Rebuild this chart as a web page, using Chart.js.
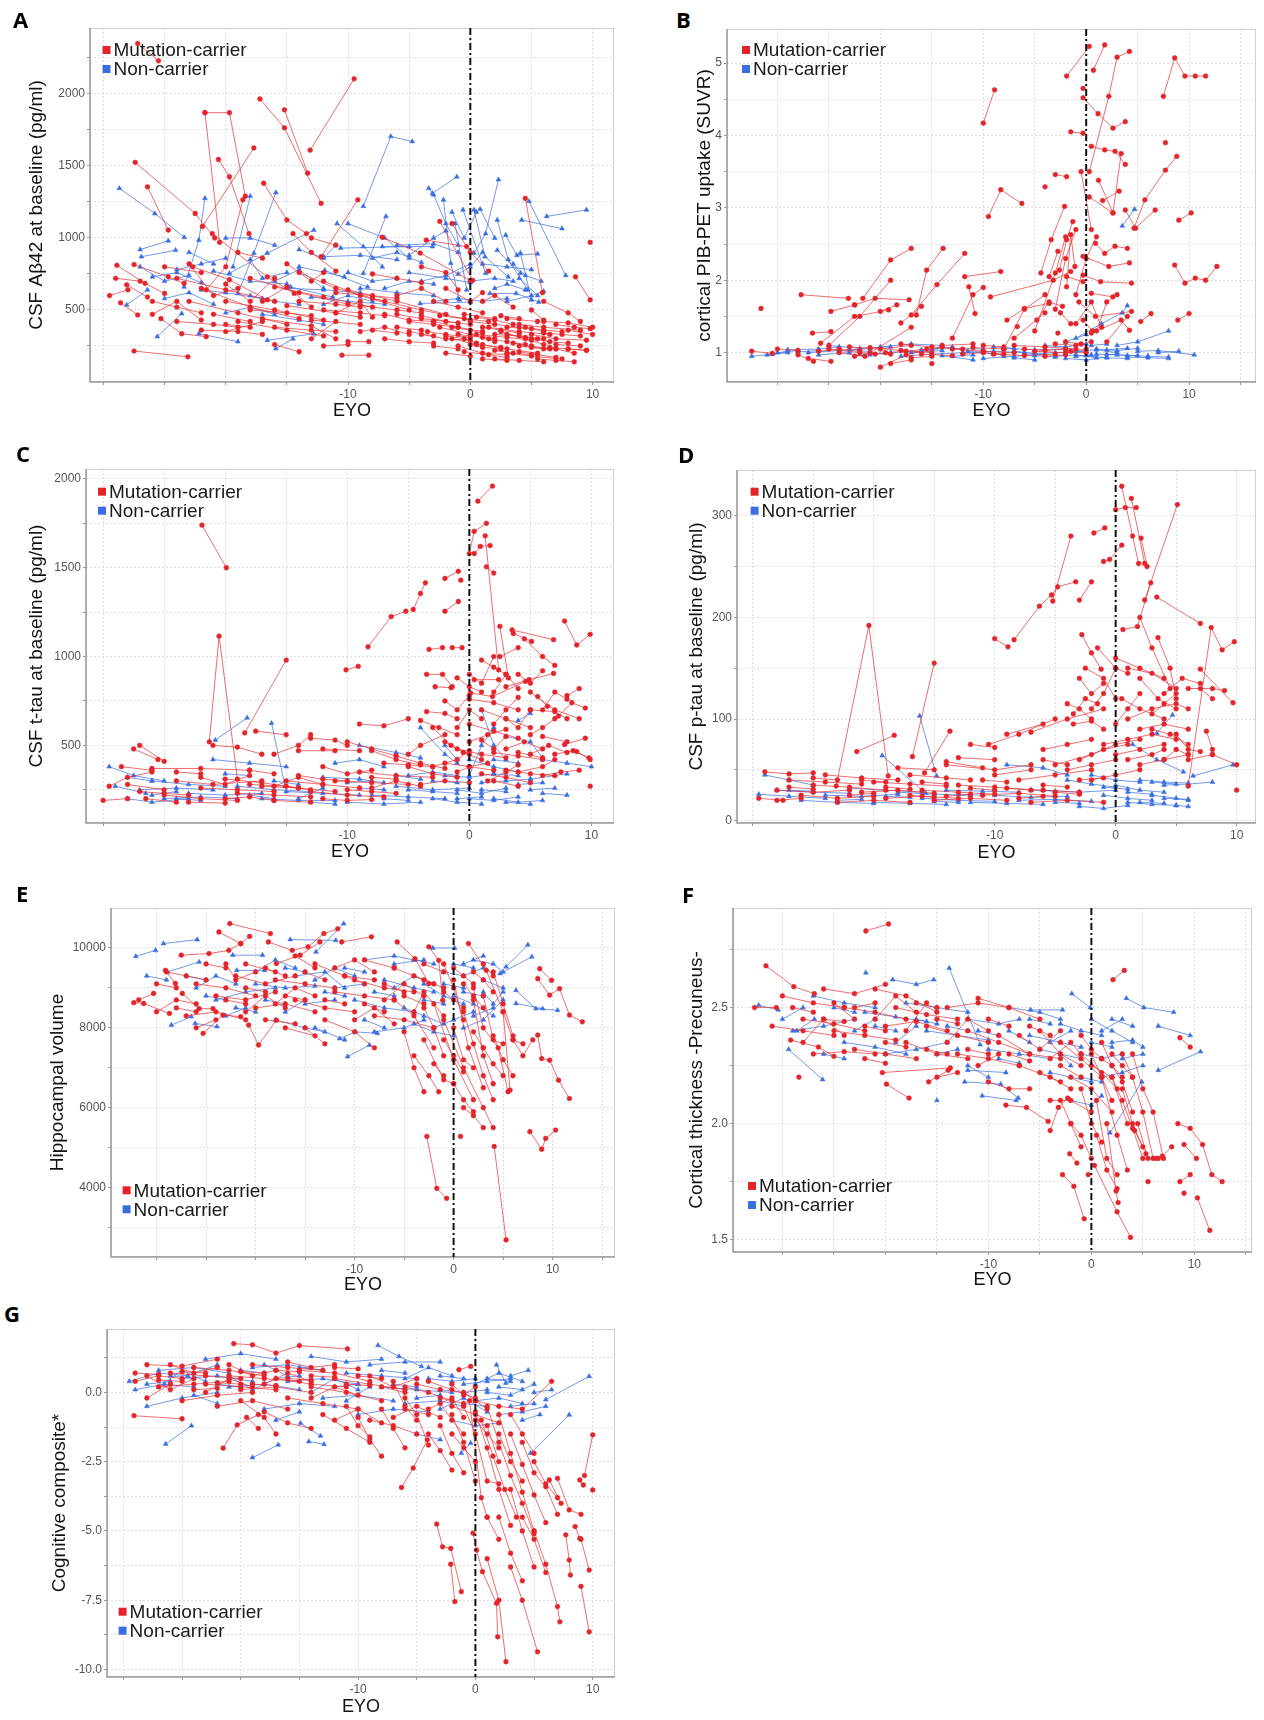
<!DOCTYPE html>
<html>
<head>
<meta charset="utf-8">
<title>Longitudinal biomarkers by EYO</title>
<script src="https://cdn.jsdelivr.net/npm/chart.js@4.4.1/dist/chart.umd.min.js"></script>
<style>
  body { margin: 0; background: #fff; }
  #page { position: relative; width: 1264px; height: 1720px; overflow: hidden; background: #fff; }
  .panel { position: absolute; }
  .letter { position: absolute; font-family: "Open Sans", "DejaVu Sans", sans-serif; font-weight: 700; font-size: 22px; line-height: 22px; color: #000; }
</style>
</head>
<body>
<div id="page"></div>
<script>
// each trajectory is one participant: [eyo1, value1, eyo2, value2, ...]
const xGridTicks = [-30, -25, -20, -15, -10, -5, 0, 5, 10, 15];
const xLabelTicks = [-10, 0, 10];

// A: CSF Abeta42
const A_yGrid = [250, 500, 750, 1000, 1250, 1500, 1750, 2000, 2250];
const A_yLabels = [500, 1000, 1500, 2000];
const A_mc = [
  [-27.2,2350,-25.5,2230], [-13.1,1610,-9.5,2105], [-17.2,1965,-15.2,1765,-12.2,1240],
  [-15.2,1890,-13.3,1450], [-21.7,1870,-19.7,1870,-18.4,1290], [-21.7,1870,-20.5,970],
  [-27.4,1525,-22.5,1170,-20.9,1000], [-26.4,1355,-24.7,1055], [-20.6,1545,-19.7,1425,-18.1,1030],
  [-21.9,1080,-17.7,1625], [-16.9,1380,-15.0,1125,-13.4,1030], [-12.2,870,-9.2,1265],
  [-28.9,810,-26.6,685,-25.0,615], [-28.1,675,-26.4,590], [-28.6,550,-27.2,465],
  [-27.5,815,-24.7,730,-23.4,685], [-27.5,215,-23.1,175], [-25.3,440,-23.6,335,-21.6,315],
  [-22.7,800,-19.7,710,-16.6,570], [-21.6,640,-20.0,800,-18.6,1265], [-21.1,1030,-16.6,730,-14.4,615],
  [-7.2,1005,-4.1,895,0.0,705], [-3.6,985,-0.3,940], [-2.5,1115,0.2,705], [4.5,1275,5.9,620],
  [8.6,730,9.8,570], [9.8,970], [-10.5,186,-8.3,186], [-10.0,280,-8.3,280],
  [-24,720,-20,640,-16,560], [-22,650,-18,520,-14,440], [-20,560,-16,500,-12,430],
  [-23,560,-19,480,-15,400], [-18,720,-14,620,-10,540], [-16,660,-12,590,-8,520],
  [-14,760,-11,650,-7,560], [-12,700,-9,600,-5,500], [-10,640,-6,560,-2,470],
  [-8,580,-4,500,0,430], [-19,420,-15,360,-12,320], [-17,440,-13,390,-11,300],
  [-21,470,-18,420], [-15,530,-11,480,-9,450], [-13,430,-9,400], [-16,260,-14,210],
  [-25,800,-22,760], [-14.5,1030,-13,900,-11,770], [-6,470,-4,440,-1,410],
  [-4,460,-2,420,0,400], [-5,350,-3,320], [-3,420,-1,380,1,350], [-2.5,380,0,330,2,300],
  [-1.5,300,0.5,260,2.5,240], [-1,250,1,200,3,190], [0,420,2,400,4,380], [0.5,330,3,310,5,290],
  [1,260,3,230,5.5,200], [2,160,4,150,6,140], [3,200,5,180,7.5,160], [4,400,6,380,9,360],
  [5,330,7,300,9.5,290], [6,420,8,410,10,380], [-2,200,0,180], [3,440,5.5,420],
  [1.5,380,4,350,6.5,330], [7,260,9,250], [8,360,10,330], [-0.5,470,2,440],
  [2.5,350,4.5,300,6,260], [5,240,7,230,8.5,200], [-1.5,1100,0,900,1.5,770], [-3,560,-1,520,1,480],
  [-5,420,-3,400,-1,380], [-4,330,-2,300,0,290], [-3,250,-1,230], [-2.5,460,-0.5,440,1.5,420],
  [-1,330,1,310,2,280], [-0.5,210,1.5,190,3,170], [0.5,450,2,430,3.5,400], [1,380,2.5,360,4,340],
  [1.5,300,3,280,4.5,260], [2,220,3.5,200,5,190], [2.5,460,4,440], [3,330,4.5,310,6,300],
  [3.5,270,5,250,6.5,230], [4,210,5.5,190,7,170], [4.5,380,6,360,7.5,350], [5,300,6.5,280,8,270],
  [5.5,160,7,150,8.5,140], [6,340,7.5,330,9,320], [6.5,240,8,230,9.5,220], [7,400,8.5,380,9.8,370],
  [-6,380,-4,360], [-7,300,-5,280,-3,270], [-8,360,-6,340], [-1.5,380,0,360,1,340],
  [0,260,1,240,2.5,230], [-2,320,-0.5,300,0.5,270], [1,160,3,150], [3,380,5,370,6,350],
  [-3.5,350,-2,330,0,310], [8,230,9.5,220], [4,250,6,230,7,230], [2,330,4,320,5.5,300],
  [-29,720,-27,700], [-26,560,-24,520,-22,480], [-24,420,-21,400,-19,380], [-22,360,-19,350,-17,330],
  [-20,400,-18,380], [-18,500,-15,480,-13,460], [-16,380,-13,360,-11,350], [-14,560,-11,540,-9,520],
  [-12,500,-9,480,-7,460], [-11,620,-8,600,-6,580], [-9,530,-6,500,-4,480], [-7,470,-5,430,-3,420],
  [-12,250,-10,260], [-19,900,-17,860], [-13,1000,-11,950], [-8,750,-6,720,-4,690],
  [-26,470,-24,560,-22,430], [-23,820,-21,600,-19,650], [-20,680,-18,560,-16,720], [-17,560,-15,660,-13,520],
  [-15,820,-13,700,-12,760], [-11,480,-9,560,-8,450], [-29.5,600,-28,640], [-20,350,-17,420],
  [-13,300,-11,420], [-9,350,-7,380,-5,330], [-6,600,-4,650,-2,560], [-4,800,-2,760,-1,640],
  [-2,650,0,560,1,620], [1,560,2,600,3.5,520], [5,500,6,430], [6,560,8,480,9,420]
];
const A_nc = [
  [-28.7,1345,-25.8,1170,-23.4,1005], [-8.75,1220,-6.5,1705,-4.75,1670], [-3.4,1345,-3.1,1310,-1.1,1425],
  [0.3,895,1.25,1030,2.3,1405], [4.8,1255,7.8,740], [4.2,1125,7.5,1065], [6.25,1150,9.5,1195],
  [-19.0,615,-17.7,895,-15.9,1315], [-19.4,800,-18.0,1290], [-10.9,1100,-8.75,940,-7.2,800],
  [-27.0,920,-24.7,980], [-26.9,870,-24.1,915], [-23.4,660,-22.2,985,-21.7,1275],
  [-25.6,315,-23.6,475], [-28.1,535,-26.4,640], [-22.2,335,-19.0,280],
  [-19.7,755,-16.6,895,-12.8,1055], [-10.6,930,-5.0,940], [-7.2,940,-3.1,940], [-8.75,755,-6.9,1150],
  [-2.2,1265,-1.6,825,-0.9,570], [0.3,1195,1.2,870,3.1,730], [2.2,1125,3.1,850,4.7,640],
  [4.1,895,5.0,570], [1.6,615,3.75,615,5.6,555], [-4.1,545,0,555], [-14.7,660,-11.25,590],
  [-16.6,290,-12.8,335], [-11.9,775,-8.4,660], [-14,800,-10.3,730], [2.2,915,4.1,755],
  [-1.25,1100,-0.3,640], [-0.6,1195,1.25,755], [-15.9,232,-14.5,300], [-24,780,-22,820,-20,860],
  [-17,470,-14,430,-12,400], [-13,590,-10,560,-7,540], [-9,650,-6,620,-3,600],
  [-5,760,-2,720,0,690], [3,560,5,600,6,630],
  [-3,1300,-2,1100,-1,950], [-1.5,1180,-0.5,1000,0.5,1180], [0.8,1200,2,1000], [2.9,1020,3.8,880,5.5,890],
  [-6,950,-3,960,-1,900], [-4,700,-2,740,0,820], [0,700,2,720,3.5,700], [1,820,3,800,5,780],
  [3.5,820,4.5,740,5.8,700], [-10,1100,-7,1000,-5,860], [-12,870,-9,880,-6,850], [-15,650,-12,640,-9,620],
  [-20,1000,-18,1000,-16,950], [-22,640,-20,620,-17,580], [-18,600,-16,560,-14,540], [-21,770,-18,700,-15,680],
  [-26,730,-24,760,-22,690], [-3,560,-1,580,1,560,3,580], [4,720,5.5,600],
  [-27,800,-25,700,-23,740], [-25,580,-23,620,-21,540], [-23,900,-21,820], [-20,480,-18,520,-16,470],
  [-18,850,-17,720,-15,760], [-16,700,-14,780,-12,650], [-14,920,-12,860,-11,950], [-12,540,-10,600,-8,560],
  [-10,760,-8,700,-6,720], [-8,860,-6,900,-4,830], [-7,650,-5,700,-3,680], [-5,880,-3,1000,-2,1050],
  [-1,750,0,800,1,900], [2,650,3,680,4.5,640]
];

// B: cortical PIB-PET SUVR
const B_yGrid = [1, 1.5, 2, 2.5, 3, 3.5, 4, 4.5, 5];
const B_yLabels = [1, 2, 3, 4, 5];
const B_mc = [
  [-10.0,4.17,-8.9,4.63], [-9.5,2.88,-8.3,3.25,-6.25,3.06], [-1.9,4.82,0.3,5.23],
  [-0.3,4.52,1.15,4.3,2.6,4.1,3.8,4.19], [-0.3,4.65], [0.3,3.5,2.2,4.54,3.0,5.08,4.2,5.16],
  [0.7,4.9,1.8,5.25], [-1.5,4.05,-0.3,4.03], [0.5,3.85,1.8,3.8,2.8,3.78,3.8,3.6],
  [1.2,3.38,2.6,2.93,3.4,3.75], [0.3,3.15,2.6,2.93], [1.6,3.1,3.2,3.23],
  [4.65,2.72,5.7,3.11,7.7,3.52,8.8,3.71], [7.7,3.9], [7.5,4.54,8.6,5.07,9.6,4.82,10.6,4.82,11.6,4.82],
  [9.0,2.83,10.2,2.93], [8.6,2.21,9.6,1.96,10.6,2.03,11.6,2.0,12.7,2.19], [8.9,1.45,10.0,1.54],
  [3.8,2.97,4.8,2.72,6.7,2.97], [-3.0,3.46,-1.9,3.43], [-4.0,3.29], [-0.5,3.5,0.5,2.7],
  [-4.4,2.1,-3.4,2.56,-2.1,3.02], [-2.6,2.14,-1.9,2.56,-1.3,2.81], [-1.9,1.91,-1.5,2.63,-1.1,2.19],
  [-3.6,2.05,-2.75,2.4], [0.9,2.51,1.8,2.37,2.8,2.47,4.0,2.44], [-0.3,2.33,2.2,2.19,4.2,2.24],
  [-0.3,2.07,1.4,1.98,4.4,1.96], [0.5,1.82,2.6,1.77], [-0.7,1.7,0.9,1.5,4.4,1.57],
  [-1.9,2.05,-0.3,1.98], [-9.3,1.77,-3.2,2.0,-1.5,2.12], [-11.8,2.05,-8.3,2.12],
  [-11.4,1.91,-10.8,1.54], [-17.0,1.52,-14.5,1.94,-11.8,2.37], [-16.5,1.52,-15.5,2.14,-13.9,2.44],
  [-21.7,1.75,-19.0,2.28,-17.0,2.44], [-27.7,1.8,-23.1,1.75], [-22.5,1.66,-20.5,1.75,-17.2,1.73],
  [-24.8,1.57,-22.5,1.66], [-26.6,1.27,-24.8,1.29], [-25.8,1.13,-22.5,1.5,-19.2,1.59],
  [-20.0,1.57,-18.4,1.66], [-18.0,1.41,-16.0,1.64], [-7.7,1.45,-6.0,1.61,-3.6,1.68],
  [-4.8,1.45,-3.6,1.7,-2.3,1.64], [0.5,1.27,3.4,1.45,4.2,1.31], [5.3,1.43,6.3,1.54],
  [-31.6,1.61], [-6.7,1.36], [-2.75,1.27], [-0.3,1.45,0.6,1.3],
  [-32.5,1.02,-30.5,0.99], [-28,0.97,-26.5,0.88], [-27,0.92,-24.8,0.88], [-25,1.05,-22,1.0,-19,0.98],
  [-21,1.07,-18,1.03,-15,1.0], [-20,0.8,-17.5,0.97,-14,1.08], [-18,1.12,-15,1.08,-12,1.05],
  [-16,0.98,-13,0.96], [-15,0.85], [-13,1.05,-10,1.02,-7,1.0], [-11,1.07,-8,1.05],
  [-9,0.98,-6,0.96,-3,0.98], [-7,1.1,-4,1.08,-1,1.05], [-5,1.02,-2,1.0,0,1.0],
  [-3,1.12,-1,1.1,0.5,1.15], [-23,1.08,-20,1.05,-17,1.1], [-14,1.1,-11,1.12], [-24,1.0,-21.5,0.95],
  [-1.0,1.4,0.5,1.7,1.5,1.35], [-2.5,1.55,-1.5,1.4],
  [-30,1.05,-28,1.03], [-26,1.02,-24,1.05,-22,1.03], [-22.5,0.95,-20.5,0.98], [-19.5,1.0,-17.5,1.02,-15.5,1.05],
  [-17,0.93,-15,0.95], [-12,0.98,-10,1.0,-8,0.98], [-10,1.1,-8,1.08], [-6,1.05,-4,1.03,-2,1.05],
  [-4,0.95,-2,0.97], [-1.5,1.02,0,1.05], [-2,1.15,-0.5,1.12], [-19,0.85,-17,0.9],
  [-25,1.1,-22,1.5,-19,2.0], [-21,1.0,-17,1.35], [-13,1.2,-11,1.8,-10,1.9], [-7,1.2,-4,1.55],
  [-8,1.05,-6,1.6,-4,1.8], [-5,1.3,-3,2.1,-2,2.6], [-3,1.6,-2,2.3,-1,2.7], [-1,1.8,0,2.3,1,2.6],
  [1,1.3,2,1.7,3,1.8], [2,1.15,4,1.5]
];
const B_nc = [
  [-32.5,0.95,-30.5,0.98,-29,1.02], [-29,1.04,-26,1.05,-24,1.08], [-27,1.0,-24,1.03,-21,1.02],
  [-25,1.1,-22,1.06,-19,1.08], [-22,0.98,-19,1.0,-16,1.02], [-20,1.08,-17,1.12,-14,1.1],
  [-18,0.95,-15,0.98,-12,1.0], [-16,1.04,-13,1.06,-10,1.05], [-14,0.96,-11,0.9],
  [-12,1.0,-9,1.02,-6,1.0], [-10,0.92,-7,0.95,-4,0.98], [-8,1.06,-5,1.04,-2,1.05],
  [-6,0.98,-3,1.0,0,1.02], [-4,1.1,-2,1.08,0,1.12], [-3,0.95,-1,0.97,1,0.93],
  [-1,1.02,1,1.04,3,1.0], [0,0.96,2,0.93,4,0.92], [1,1.05,3,1.03,5,1.06], [2,0.98,4,0.96,6,0.95],
  [3,1.1,5,1.15,8,1.3], [4,0.94,6,0.93,8,0.92], [5,1.02,7,1.03,10.5,0.97],
  [-1,1.2,1.5,1.4,3.5,1.55,4,1.65], [3.5,2.75,4.7,2.98], [-2,1.15,0,1.25], [-9,1.0,-8,0.95],
  [-11.5,1.02,-9,0.98], [-30,1.0,-28,1.03], [-26,0.97,-23,1.0], [-17,1.0,-14,1.03],
  [-7,1.02,-5,0.99], [-2,0.92,0,0.9,2,0.94],
  [-31,0.97,-29,1.0], [-28,1.01,-26,1.03], [-23,1.04,-21,1.06], [-21,0.97,-19,1.0], [-15,1.05,-13,1.08],
  [-13,0.95,-11,0.97], [-9,1.08,-7,1.06], [-5,0.96,-3,0.94], [-1,0.95,0.5,0.97], [1,0.98,3,0.97,5,0.96],
  [2,1.04,4,1.06], [6,0.95,8,0.94], [7,1.0,9,1.02], [-7,0.93,-5,0.9], [0.5,1.1,2,1.12]
];

// C: CSF t-tau
const C_yGrid = [250, 500, 750, 1000, 1250, 1500, 1750, 2000];
const C_yLabels = [500, 1000, 1500, 2000];
const C_mc = [
  [-21.9,1740,-19.9,1500], [-21.3,520,-20.5,1115,-19.0,310], [-18.4,570,-15.0,980],
  [-8.3,1055,-6.4,1225,-5.2,1255], [-4.6,1265,-4.0,1355,-3.6,1415], [-2.0,1440,-0.9,1480], [-0.7,1430],
  [-2.0,1255,-0.9,1310], [0.7,1875,1.9,1960], [0.0,1580,0.4,1705,1.4,1750], [0.4,1580,0.9,1620,1.7,1625],
  [1.4,1505,2.0,1470], [1.3,1680,2.4,925], [-10.1,925,-9.1,945], [-3.3,1040,-2.2,1050],
  [-1.4,1050,-0.6,1050], [-3.5,900,-2.2,900,-1.4,830], [-2.8,830,-1.5,825], [0.1,795,1.9,775,4.6,860],
  [0.4,870,2.4,870], [2.5,1170,3.2,880], [3.5,1150,6.9,1095], [3.6,1130,5.1,1085],
  [7.8,1200,8.8,1065,9.9,1125], [3.0,830,4.9,870,6.9,905], [7.3,665,8.4,740,9.5,710],
  [7.8,505,9.5,540], [8.8,465,9.9,420], [9.9,270], [5.6,775,6.4,720],
  [-3.5,690,-2,680,-1,650], [-4,640,-2.5,600,-1,560], [-3,600,-1.5,500,0,450], [-2,520,-0.5,460,1,420],
  [-1,480,1,450,3,430], [0,620,2,580,4,540], [1,700,3,650,5,600], [2,460,4,440,6,420],
  [3,360,5,340,7,330], [-2,400,0,380,2,360], [-5,380,-3,340,-1,320], [-6,440,-4,400,-2,370],
  [-8,470,-6,420,-4,390], [-10,520,-8,480,-6,440], [-9,620,-7,610,-5,650], [-12,480,-9,470],
  [-13,540,-11,530,-10,500], [-14,470,-11,470], [-16,450,-14,500,-13,560], [0,760,2,740,4,700],
  [4,460,6,430], [5,700,7,690,8,650], [6,550,8,520], [2,300,4,270], [1,340,3,320,5,290],
  [-29.5,270,-28,320,-26,350], [-28.5,380,-26,360], [-27.5,480,-25.5,420], [-27,500,-25,410],
  [-26,370,-22,370,-18,360], [-24,300,-21,280,-17,300], [-22,260,-19,250,-16,240],
  [-20,310,-17,290,-14,260], [-21,500,-19,490,-17,450], [-19,230,-16,220,-13,210], [-18,360,-16,340],
  [-17,270,-14,260,-11,240], [-15,300,-12,280,-9,260], [-13,240,-10,220,-7,210],
  [-11,300,-8,290,-5,280], [-9,350,-6,330,-3,320], [-25,220,-22,200,-19,190], [-23,180,-20,175],
  [-16,190,-13,180], [-28,280,-25,250], [-26.5,200,-24,180], [-17.5,580,-15,560],
  [-30,190,-28,200], [-27,240,-25,230,-23,220], [-24,350,-22,340], [-20,200,-18,210,-16,190],
  [-18,280,-15,270,-13,250], [-14,330,-12,310,-10,300], [-12,200,-10,190,-8,195], [-10,250,-8,240,-6,230],
  [-8,320,-6,310], [-7,400,-5,390,-3,380], [-5,450,-4,500,-2,560], [-4,280,-2,300,0,290],
  [-3,380,-1,420,0,470], [-1,350,0,380,1.5,400], [0,520,1.5,560,3,590], [1.5,300,3,350,4,390],
  [2,620,3,700,4,770], [3,480,4.5,520,6,480], [4,350,6,380,7,420], [5,560,6,600,7,650],
  [6,330,7.5,350,9,360], [7,450,8.5,470,9.8,430], [-1,880,0,830,1,800], [1,980,2,940,3,900],
  [2.5,1000,4,1050], [4.5,1100,6,1000,7,950], [5,800,7,700,9,650], [8,780,9,820],
  [-1,600,0,700,1,650], [0,900,1,850,2,1000], [2,800,3,900,4,820], [3,650,4,600,5,700],
  [4,900,5,850,6,920], [5,450,6.5,500,8,460], [6,700,7,800,8,760], [-2,750,-1,700,0,780],
  [1,530,2,480,3,550], [-22,320,-20,280,-18,330], [-16,270,-14,320,-12,280], [-12,380,-10,340,-8,360],
  [-8,260,-6,300,-4,270]
];
const C_nc = [
  [-20.8,530,-18.2,655], [-16.2,625,-15.1,270], [-29.5,380,-27.5,330,-25,300], [-29,270,-26.5,230],
  [-28,200,-26,180,-23,200], [-27,250,-24,260,-21,250], [-26,300,-23,280,-20,270],
  [-25,200,-22,210,-19,200], [-23,230,-20,220,-17,230], [-21,420,-18,400,-15,380],
  [-19,270,-16,250,-13,240], [-17,200,-14,190,-11,190], [-15,240,-12,230,-9,220],
  [-12,320,-9,310,-7,290], [-10,180,-7,170,-4,180], [-11,400,-9,420,-7,380], [-9,500,-6,460,-4,430],
  [-8,220,-5,210,-2,200], [-6,270,-3,250,0,260], [-4,600,-2,450,-1,400], [-3,200,-1,180,1,170],
  [-2,330,0,320,2,340], [-1,250,1,230,3,260], [0,420,2,380,4,350], [1,700,2,500,3,420],
  [1,290,3,300,5,310], [2,200,4,180,6,190], [3,550,5,520,6,430], [4,640,5,680], [5,310,7,330,8,340],
  [6,420,8,400,10,380], [-14,200,-12,260], [-5,330,-3,350,-1,330], [0,200,2,190,4,210],
  [-28,320,-26,300], [-24,200,-22,190], [-20,340,-18,330], [-16,300,-14,280], [-13,180,-11,170],
  [-9,260,-7,250], [-7,200,-5,190], [-5,250,-3,240,-1,230], [-3,300,-1,290], [-1,200,1,210],
  [1,250,3,240], [2,340,4,330], [3,180,5,170], [4,280,6,290], [6,230,8,220], [-2,500,-1,420],
  [0,330,1,500,2,600], [-26,220,-24,240], [-18,220,-16,200], [-10,290,-8,300], [-6,330,-4,310],
  [2,420,4,400], [5,250,7,260]
];

// D: CSF p-tau
const D_yGrid = [0, 50, 100, 150, 200, 250, 300];
const D_yLabels = [0, 100, 200, 300];
const D_mc = [
  [-23.1,34,-20.4,192,-18.8,44], [-21.4,68,-18.3,84], [-16.8,63,-15.0,155], [-15.8,47,-13.7,88],
  [-10.0,179,-8.9,171], [-8.4,178,-6.3,211,-5.3,222,-4.8,230,-3.3,235], [-5.2,216,-3.7,280],
  [-2.8,183,-2.0,165,-1.2,149], [-1.8,283,-0.9,288], [-1.0,255,-0.5,257,0.5,271], [-3.0,217,-2.0,235],
  [0.5,329,1.4,280,1.9,253], [0.0,306,0.8,308,1.7,308], [1.3,317,2.4,253], [2.1,278,2.6,250],
  [2.4,217,5.1,311], [3.4,220,7.0,194], [0.6,188,1.8,191,2.9,234], [6.0,34,7.9,190,8.8,168,9.8,176],
  [7.0,149,9.7,116], [10.0,30], [-3.5,105,-2.5,120,-1.5,115], [-3.5,95,-2,98,-1,90],
  [-3,140,-2,125,-1,135], [-4,115,-3,110,-2,100], [-2.5,150,-1,140,0,120], [-1.5,170,0,150,1,145],
  [0,160,2,150,4,140], [1,150,3,145,5,130], [2,140,3.5,120,5,110], [0.5,120,2,110,4,100],
  [2,200,3,170,4.5,130], [3.5,180,4.5,150,5,120], [1,100,3,110,5,115,6,110], [4,125,5.5,140,7,135],
  [6,130,8,130,9,128], [3,90,4.5,85,6,75], [5,85,6,70,7,68], [7.5,88,8,70],
  [-10.5,75,-8,85,-5,100], [-9,85,-6,95], [-12,75,-10,72], [-7,87,-4,100,-1,110],
  [-5,55,-2,65,0,75,2,80], [-3,60,-1,70,1,75], [-1,75,1,80,3,85,5,80], [0,65,2,70,4,75],
  [-4,50,-2,55,0,60], [-6,60,-4,55], [-14,55,-10,50,-7,55], [-13,62,-10,60], [-8,40,-5,45,-2,50],
  [2,55,4,60,6,65], [6,60,8,65], [8,65,10,55],
  [-29,48,-27,46,-25,47], [-29.5,22,-27.5,20], [-28,30,-25,28,-22,30], [-27,40,-24,38,-21,36],
  [-26,25,-23,22,-20,24], [-25,35,-22,33,-19,30], [-24,45,-21,42,-18,40], [-23,18,-20,20,-17,18],
  [-21,28,-18,30,-15,27], [-20,38,-17,36,-14,34], [-19,22,-16,24,-13,22], [-17,45,-14,42,-12,40],
  [-16,30,-13,28,-10,26], [-15,20,-12,22,-9,20], [-13,35,-10,33,-7,30], [-11,25,-8,27,-5,24],
  [-9,32,-6,30,-3,28], [-7,18,-4,20,-1,18], [-18,52,-15,50], [-14,58,-11,52], [-10,45,-7,50],
  [-28,20,-26,22], [-27,33,-25,31], [-25,42,-23,40], [-22,25,-20,27], [-21,40,-19,38], [-19,33,-17,31],
  [-17,25,-15,23], [-16,38,-14,36], [-14,24,-12,26], [-12,32,-10,30], [-11,40,-9,38], [-8,22,-6,24],
  [-6,35,-4,33], [-5,28,-3,26], [-3,40,-1,42], [-6,70,-4,75,-2,80], [-2,40,0,45,2,50],
  [0,95,1,110,2,125], [1,60,3,65,4,70], [3,105,4,115,5,125], [-2,110,-1,125,0,150], [4,60,5,70,6,65],
  [2,90,4,95,6,90], [7,130,8,120]
];
const D_nc = [
  [-19.3,64,-15.7,27], [-16.2,103,-14.8,44], [1.4,75,3.4,60,5.6,48], [3.4,86,4.7,104], [6.4,44,9.7,55],
  [-29,45,-27,40,-25,35], [-29.5,26,-27,24,-24,22], [-28,30,-25,28,-22,27], [-26,20,-23,18,-20,17],
  [-24,25,-21,24,-18,26], [-22,32,-19,30,-16,28], [-20,18,-17,17,-14,16], [-18,28,-15,26,-12,25],
  [-16,22,-13,20,-10,19], [-14,30,-11,29,-8,28], [-12,18,-9,17,-6,16], [-10,25,-7,23,-4,24],
  [-9,55,-6,52,-4,45], [-8,20,-5,21,-2,19], [-6,30,-3,28,0,30], [-4,40,-2,36,0,33],
  [-3,14,-1,12,1,15], [-2,45,0,40,2,38], [-1,25,1,22,3,20], [0,35,2,30,4,28], [1,18,3,16,5,15],
  [2,40,4,38,6,37], [3,25,5,22,6,20], [4,35,6,36,8,38], [5,15,6,14],
  [-27,30,-25,29], [-23,20,-21,21], [-19,24,-17,23], [-15,19,-13,18], [-13,26,-11,25], [-7,30,-5,29],
  [-5,18,-3,17], [-1,33,1,31], [1,28,3,26], [2,18,4,17], [3,38,5,36], [4,22,6,21]
];

// E: hippocampal volume
const E_yGrid = [3000, 4000, 5000, 6000, 7000, 8000, 9000, 10000];
const E_yLabels = [4000, 6000, 8000, 10000];
const E_mc = [
  [-22.6,10610,-18.5,10360], [-23.7,10400,-21.5,10110,-20.6,10290], [-32.3,8630,-31.3,8610,-28.7,8360],
  [-31.8,8700,-30.3,8860], [-29.1,9440,-28.1,9110], [-27.5,9820,-24.7,9860,-22.7,9940,-21.5,10110],
  [-27.4,8860,-25.7,8480,-24.3,8480], [-25.3,7860,-23.3,8320,-21.5,8280], [-20.7,8070,-19.7,7570,-17.9,8190],
  [-18.7,10150,-16.3,9940,-14.7,10030,-13.1,10360,-11.7,10480], [-17.9,9610,-15.5,9820,-13.5,10150],
  [-11.3,10150,-8.3,10280], [-5.7,10150,-3.9,9730,-2.5,9110], [-2.5,10030,-1.5,9690,-1.1,8690],
  [1.5,10110,3.3,9440,5.0,8400,5.7,6440], [8.7,9480,9.9,9190], [8.5,9230,9.7,8820,10.7,8980,11.7,8320,13.0,8150],
  [8.5,7820,8.9,7230,9.7,7190,10.6,6690,11.7,6230], [7.7,5400,8.9,4960,9.3,5230,10.3,5440],
  [-2.7,5280,-1.7,3980,-0.7,3730], [0.7,5280], [4.1,5030,5.3,2690],
  [-2,8600,0,7200,2,6200], [-1,8200,1,7000,3,6000,4,5500], [0,9200,1.5,7500,3,6500],
  [-3,7700,-1,6700,0,6600], [-4,7300,-2.5,6800,-1.5,6400], [-5,7900,-4,7000,-3,6400],
  [1,8400,2,7600,3,6800,4,6200], [2,9000,3,8000,4.5,7500,5.5,6400], [3,8800,4,7700,5,7600],
  [5,8400,6,7700,7,7600], [6,7700,7,7300,8,7700], [1,6000,2,5800,3,5500], [-3,8500,-2,8000,-1,7300],
  [0,8000,1,7200,2,7000], [4,9400,5,8600,6,7800], [2,8700,3,7300,4,6600], [-1,9600,0,9000,1,8200],
  [-6,8700,-4,8300,-2,7500], [-29,9400,-27,9300,-25,9200], [-27,8300,-24,8400,-21,8200],
  [-26,9100,-23,9000,-20,8800], [-24,8800,-21,8700,-18,8900], [-22,9300,-19,9100,-16,9300],
  [-20,8500,-17,8600,-14,8400], [-18,9200,-15,9100,-12,9000], [-17,8000,-14,7800],
  [-16,8700,-13,8500,-10,8400], [-14,9600,-11,9300,-8,9200], [-12,8900,-9,8800,-6,8700],
  [-10,9200,-7,9000,-4,8900], [-8,8300,-5,8200,-2,8000], [-6,9500,-3,9200,-1,9000],
  [-13,8200,-10,7900,-8,7500], [-21,9600,-18,9400], [-19,8200,-16,8100], [-15,8000,-13,7600],
  [-9,9700,-6,9500],
  [-30,9100,-28,9000], [-28,8500,-26,8400], [-25,9600,-23,9500], [-23,8700,-21,8600], [-21,9000,-19,8900],
  [-19,9500,-17,9300], [-17,8800,-15,8700], [-15,9400,-13,9200], [-13,8700,-11,8600], [-11,9300,-9,9100],
  [-9,8600,-7,8400], [-7,9100,-5,8900], [-5,8800,-3,8600], [-4,9300,-2,9100], [-3,9600,-1,9400],
  [-1,8900,0,8700,1,8500], [0,9500,1,9300,2,9100], [1,9100,2,8800,3,8500], [2,9400,3,9200,4,8900],
  [3,9600,4,9300], [-1,7700,0,7300,1,6900], [0,6600,1,6200,2,5900], [3,7500,4,7100,5,6800],
  [2,7900,3,7500], [-2,7100,-1,6800], [4,7800,5,7200,6,6800],
  [-30,8400,-28,8700,-26,8600], [-26,8000,-24,8200], [-23,9600,-22,9200,-20,9400], [-21,8400,-19,8800,-17,8500],
  [-18,8600,-16,9000,-14,8800], [-16,9800,-14,9500], [-12,9500,-10,9700,-8,9400], [-10,8200,-8,8500,-6,8100],
  [-7,8700,-5,9100,-3,8800], [-4,8400,-3,8900,-1,8300]
];
const E_nc = [
  [-32.1,9790,-30.1,9940], [-29.3,10110,-25.9,10210], [-16.5,10210,-11.9,10190], [-13.9,9900,-11.1,10610],
  [5.3,9530,7.5,10080], [4.7,9360,7.9,9780], [6.3,8940,8.3,8480,10.5,8440], [6.3,8610,9.0,8480],
  [-10.7,7280,-8.5,7570], [-11.5,7730,-9.9,7900,-7.7,7860], [-28.5,8070,-26.5,8280], [-26.1,8110,-23.9,8030],
  [-28.9,9400,-25.7,9650], [-21.9,9440,-19.1,9440], [-22.3,9820,-19.3,9820], [-2.1,10000,0.1,10000],
  [-20,9100,-17,9000,-14,9050], [-24,8700,-21,8900,-18,9000], [-15,8600,-12,8700], [-12,9000,-9,9100],
  [-10,8700,-7,8500,-4,8400], [-9,9700,-6,9800,-4,9700], [-7,9200,-4,9000,-2,8900], [-5,8500,-3,8300,-1,8100],
  [-3,9100,-1,8800,1,8600], [-2,8000,0,8200,2,8400], [-1,9400,1,9300,3,9500], [0,8800,2,8600,4,8300],
  [1,8000,3,8200,5,8700], [2,9700,4,9600,5,9400], [3,8900,4,8600,5,8900], [-18,8200,-15,8000,-13,7900],
  [-16,9300,-13,9400,-11,9000], [-14,8000,-11,7700], [-8,7900,-5,8000,-3,8200], [-22,8500,-20,8400],
  [-6,9600,-3,9700],
  [-27,9300,-25,9200], [-25,8800,-23,8700], [-19,8700,-17,8600], [-17,9500,-15,9400], [-13,8900,-11,8800],
  [-11,9500,-9,9400], [-8,8900,-6,8800], [-4,9700,-2,9600], [-3,8700,-1,8600], [-1,9100,1,9000],
  [1,8900,3,8800], [2,8300,4,8500], [0,9600,2,9500], [3,9200,5,9000],
  [-31,9300,-29,9200], [-26,9000,-24,9300,-22,9100], [-23,8300,-21,8500], [-20,9400,-18,9700,-16,9500],
  [-17,8400,-15,8700], [-14,9200,-12,9500,-10,9300], [-9,8200,-7,8000], [-6,9000,-4,9300,-2,9100],
  [-4,8100,-2,7900,0,7800], [1,9600,3,9800]
];

// F: cortical thickness, precuneus
const F_yGrid = [1.5, 1.75, 2, 2.25, 2.5, 2.75];
const F_yLabels = [1.5, 2, 2.5];
const F_mc = [
  [-21.9,2.83,-19.7,2.86], [2.1,2.62,3.2,2.66], [-31.6,2.68,-28.9,2.59,-26.9,2.56], [-32.7,2.5,-30.6,2.5],
  [-29.2,2.36,-26.5,2.33,-25.0,2.29], [-28.4,2.2], [-19.9,2.17,-17.7,2.11], [-20.3,2.22,-13.7,2.24],
  [-15.8,2.18,-13.9,2.23], [-8.3,2.08,-6.3,2.07,-4.2,2.01], [-4.0,1.97,-3.2,2.07,-2.3,2.11],
  [-2.8,1.78,-1.7,1.73,-0.7,1.59], [-0.3,1.78], [-2.1,1.87,-1.4,1.83], [0.5,2.1,1.5,1.85,2.5,1.78],
  [1,2.2,2.5,1.95,3.5,1.8], [0.3,1.82,2.5,1.62,3.8,1.51], [1.5,2.0,2.4,1.71,2.6,1.66], [5.5,1.75],
  [8.4,2.0,9.6,1.98,10.8,1.91,11.7,1.78,12.7,1.75], [9.0,1.91,10.2,1.85], [8.6,1.75,9.6,1.78], [9.0,1.7],
  [10.3,1.68,11.5,1.54], [8.6,2.37,9.6,2.33], [6.3,1.85,6.9,1.86,7.8,1.9], [4.2,1.97,5.3,1.87],
  [-31,2.42,-28,2.4,-25,2.38], [-30,2.55,-27,2.52,-24,2.5], [-28,2.45,-25,2.43,-22,2.4],
  [-27,2.3,-24,2.31,-21,2.3], [-26,2.58,-23,2.56,-20,2.6], [-25,2.4,-22,2.38,-19,2.36],
  [-24,2.5,-21,2.48,-18,2.45], [-23,2.32,-20,2.3,-17,2.28], [-21,2.58,-18,2.55,-15,2.48],
  [-20,2.42,-17,2.44,-14,2.4], [-19,2.5,-16,2.47,-13,2.45], [-18,2.35,-15,2.3,-12,2.28],
  [-16,2.42,-13,2.38,-10,2.35], [-14,2.5,-11,2.52,-8,2.5], [-13,2.3,-10,2.28,-7,2.25],
  [-12,2.4,-9,2.35,-6,2.3], [-11,2.54,-8,2.5,-5,2.45], [-10,2.18,-8,2.15,-6,2.15],
  [-9,2.38,-6,2.3,-3,2.28], [-7,2.25,-4,2.2,-2,2.15], [-5,2.4,-3,2.3,-1,2.25], [-4,2.1,-2,2.1,0,2.05],
  [-3,2.35,-1,2.28,1,2.2], [-2,2.2,0,2.15,2,2.05], [-1,2.3,1,2.22,2.5,2.15], [0,2.25,2,2.2,3.5,2.0],
  [1,2.28,2,2.25,3,2.18,4,2.05], [2,2.2,3,2.1,4,1.98,5,1.85], [3,2.3,4,2.2,5,2.05,6,1.85],
  [4,2.3,5,2.15,6,2.05,7,1.85], [-2,2.0,-1,1.95,0,1.85], [-1,2.15,0,2.0,1,1.92], [-15,2.2,-13,2.22],
  [-22,2.28,-20,2.26],
  [-29,2.5,-27,2.48], [-26,2.45,-24,2.44], [-23,2.5,-21,2.52], [-22,2.42,-20,2.4], [-20,2.35,-18,2.33],
  [-17,2.52,-15,2.5], [-16,2.32,-14,2.3], [-15,2.45,-13,2.43], [-12,2.32,-10,2.3], [-10,2.45,-8,2.42],
  [-8,2.3,-6,2.27], [-6,2.42,-4,2.38], [-5,2.22,-3,2.18], [-3,2.25,-1,2.2], [-1,2.38,0,2.32,1,2.28],
  [0,2.3,1,2.2,2,2.1], [1,2.35,2,2.25,3,2.2], [2,2.3,3,2.25,4,2.2], [3,2.15,4,2.0,5,1.9],
  [-3,2.1,-2,2.0,-1,1.9], [0.5,1.95,1.5,1.8,2.5,1.72], [4.5,2.0,5.5,1.85,6.5,1.85],
  [-28,2.35,-26,2.45,-24,2.38], [-25,2.52,-23,2.45], [-21,2.45,-19,2.55,-17,2.48], [-18,2.4,-16,2.52],
  [-14,2.35,-12,2.45,-10,2.4], [-11,2.25,-9,2.3], [-7,2.38,-5,2.32,-3,2.4], [-4,2.28,-2,2.35,-1,2.3]
];
const F_nc = [
  [-13.8,2.67,-10.8,2.34], [-32.3,2.51,-30.4,2.49], [-29.4,2.32,-26.1,2.19], [-28.6,2.4,-26.9,2.45],
  [-21.9,2.65], [-19.3,2.62,-17,2.6,-15.3,2.62], [-1.9,2.56,-0.1,2.5], [3.4,2.54,5.1,2.5,8.0,2.48],
  [6.5,2.42,9.6,2.38], [6.5,2.23,10.6,2.31], [1.8,1.96,4.9,2.18], [-5.9,2.49,-2.8,2.49],
  [-12.3,2.18,-8.8,2.17,-7.1,2.11], [-10.6,2.12,-7.3,2.1], [-12.0,2.23,-8.3,2.22], [-15.0,2.1],
  [-29,2.4,-26,2.42,-23,2.45], [-27,2.55,-24,2.52,-21,2.5], [-24,2.35,-21,2.33,-18,2.3],
  [-22,2.48,-19,2.46,-16,2.44], [-20,2.3,-17,2.32,-14,2.35], [-18,2.52,-15,2.5,-12,2.48],
  [-16,2.4,-13,2.38,-10,2.36], [-12,2.45,-9,2.43,-7,2.45], [-10,2.32,-7,2.3,-4,2.28],
  [-8,2.5,-5,2.48,-3,2.45], [-6,2.38,-3,2.35,-1,2.33], [-4,2.22,-2,2.2,0,2.18], [-3,2.43,-1,2.4,1,2.38],
  [-1,2.3,1,2.28,3,2.3], [0,2.45,2,2.4,4,2.35], [1,2.2,3,2.22,5,2.25], [2,2.35,4,2.36,5,2.33],
  [-2,2.1,0,2.08,1,2.12], [-5,2.32,-3,2.3,-2,2.25],
  [-25,2.5,-23,2.48], [-21,2.42,-19,2.4], [-17,2.45,-15,2.43], [-14,2.42,-12,2.4], [-11,2.4,-9,2.38],
  [-9,2.28,-7,2.26], [-6,2.45,-4,2.43], [-3,2.3,-1,2.28], [0,2.35,2,2.33], [2,2.45,4,2.42],
  [3,2.28,5,2.3], [-1,2.2,1,2.18],
  [-30,2.45,-28,2.5], [-26,2.3,-24,2.28], [-23,2.4,-21,2.45], [-19,2.35,-17,2.42], [-15,2.3,-13,2.32],
  [-12,2.25,-10,2.2], [-8,2.4,-6,2.35], [-4,2.35,-2,2.4], [1,2.4,3,2.45]
];

// G: cognitive composite
const G_yGrid = [-10, -8.75, -7.5, -6.25, -5, -3.75, -2.5, -1.25, 0, 1.25];
const G_yLabels = [-10, -7.5, -5, -2.5, 0];
const G_mc = [
  [-29.1,-0.84,-25.0,-0.95], [-20.6,1.76,-19.0,1.72,-17.0,1.42,-15.0,1.69,-10.9,1.57],
  [-21.5,-2.01,-20.3,-1.17,-18.5,-0.8], [-6.3,-3.43,-5.3,-2.73,-4.1,-1.71],
  [-3.3,-4.75,-2.8,-5.57,-2.1,-5.63,-1.2,-7.19], [-2.1,-6.2,-1.75,-7.55],
  [-0.2,-5.08,0.1,-5.69,0.6,-6.47,1.8,-7.61,1.9,-8.82], [1.0,-6.0,2.0,-7.5,2.6,-9.72],
  [3.0,-6.3,4.0,-7.5,5.3,-9.36], [5,-5,6,-6.2,7,-7.73,7.2,-8.28], [8.5,-4.84,8.9,-5.27],
  [7.7,-5.14,8.0,-6.05,8.1,-6.59], [8.9,-3.16,9.2,-3.34], [9.3,-3.0,10.0,-1.53], [10.0,-3.52],
  [9.0,-5.3,9.7,-6.41], [9.0,-7.0,9.7,-8.64], [7,-3.1,8,-4.24,9,-4.4], [6.3,-3.16,7.3,-4.0],
  [-1.4,0.82,-0.4,0.94],
  [-4,-1.5,-3,-2.1,-2,-2.8], [-3,-1.2,-2,-2.2,-1,-2.9], [-2,-0.8,-1,-1.8,0,-3.2],
  [-1,-0.5,0,-1.5,1,-3.2,2,-3.3], [0,-0.7,1,-2.0,2,-3.5,3,-4.8], [0.5,-1.0,1.5,-2.3,2.5,-3.5,3.5,-4.5],
  [1,-0.5,2,-1.8,3,-3.0,4,-4.0,5,-5.1], [2,-0.8,3,-2.2,4,-3.6,5,-5.0], [3,-1.5,4,-2.6,5,-3.7,6,-4.7],
  [4,-1.8,5,-2.9,6,-3.4,7,-4.4], [2,-4.5,3,-5.8,4,-6.8], [3,-3.5,4,-5.0,5,-6.3], [4,-4.5,5,-5.3,6,-6.5],
  [5,-2.5,6,-3.3,7,-3.8], [1,-4.5,2,-5.3], [-0.5,-0.3,0.5,-3.8,1,-4.5], [-3,-0.4,-2,-1.0,-1,-1.5],
  [-6,-0.2,-5,-0.8,-4,-1.9], [-8,-0.6,-7,-1.3,-6,-2.0], [-10,-0.9,-9,-1.7,-8,-2.3],
  [-11,-0.5,-10,-1.2,-9,-1.6], [-7,0.4,-6,-0.5,-5,-1.0],
  [-29,0.4,-27,0.6,-25,0.5], [-28,1.0,-25,0.95,-22,1.2], [-27,0.2,-24,0.3,-21,0.4],
  [-26,0.7,-23,0.6,-20,0.5], [-25,-0.3,-22,-0.1,-19,0.0], [-24,0.9,-21,0.8,-18,0.6],
  [-23,0.3,-20,0.2,-17,0.1], [-22,-0.5,-19,-0.3,-16,-0.6], [-21,0.6,-18,0.5,-15,0.4],
  [-20,0.1,-17,0.2,-14,0.0], [-19,1.0,-16,0.9,-13,0.8], [-18,-0.7,-16,-1.1,-14,-1.3],
  [-17,0.5,-14,0.3,-11,0.2], [-16,-0.2,-13,-0.4,-10,-0.6], [-15,0.8,-12,0.7,-9,0.4],
  [-14,0.2,-11,0.0,-8,-0.3], [-13,-0.8,-11,-1.3,-9,-1.8], [-12,0.5,-9,0.3,-6,0.1],
  [-9,-1.0,-7,-1.2,-5,-1.5], [-6,0.2,-4,0.0,-2,-0.3], [-4,0.4,-2,0.1,0,-0.2], [-2,-0.5,0,-0.8,2,-1.1],
  [0,-0.3,2,-0.5,4,-0.6,6.5,0.4], [-20,-0.3,-18,-0.9,-17,-1.5], [-19.5,-0.9,-18.5,-1.3], [-28,-0.2,-26,0.3],
  [-29,0.7,-27,0.65], [-27,0.45,-25,0.4], [-25,0.75,-23,0.7], [-24,0.1,-22,0.15], [-22,0.35,-20,0.3],
  [-20,0.75,-18,0.7], [-19,0.3,-17,0.25], [-17,0.8,-15,0.75], [-16,0.5,-14,0.45], [-14,0.6,-12,0.55],
  [-12,0.9,-10,0.85], [-11,0.3,-9,0.25], [-10,0.6,-8,0.5], [-8,0.2,-6,0.0], [-6,-0.6,-4,-0.8],
  [-5,0.3,-3,0.1], [-3,-0.2,-1,-0.4], [-1,0.0,0,-0.3,1,-0.6], [0,-1.0,1,-1.5,2,-2.0], [1,-1.2,2,-2.5],
  [2,-1.5,3,-2.5,4,-3.2], [3,-0.8,4,-1.5,5,-2.2], [-2,-1.5,-1,-2.0,0,-2.5],
  [-28,0.6,-26,0.1,-24,0.5], [-26,1.0,-24,0.7,-22,0.9], [-23,0.0,-21,0.5,-19,0.2], [-21,1.0,-19,0.6,-17,0.8],
  [-18,0.3,-16,0.7,-14,0.4], [-16,1.1,-14,0.9,-12,1.0], [-14,-0.2,-12,0.2,-10,-0.1], [-12,-1.0,-10,-0.6,-8,-1.1],
  [-9,0.6,-7,0.2,-5,0.5], [-7,-0.9,-5,-0.5,-3,-0.9], [-4,-0.6,-2,-0.2,-1,-0.9], [-2,0.3,-1,-0.1,0,0.2]
];
const G_nc = [
  [-8.3,1.7,-6.5,1.3,-4.6,0.94], [-26.4,-1.86,-24.2,-1.2], [-19.0,-2.35,-16.8,-1.89],
  [-14.2,-1.77,-12.9,-1.87], [-14.9,-1.11,-13.2,-1.57], [4.7,-2.19,8.0,-0.81], [1.8,1.0,2.6,0.34],
  [6.0,-0.26,9.7,0.58], [-1.2,-2.19,-0.4,-1.83],
  [-29.5,0.4,-27,0.7,-24.5,0.6], [-29,0.1,-26.5,0.3,-24,0.2], [-28,-0.5,-25,-0.2,-22,0.0],
  [-27,0.8,-24,0.9,-21,0.7], [-25,0.5,-22,0.6,-19,0.4], [-23,1.2,-20,1.4,-17,1.2],
  [-21,0.2,-18,0.3,-15,0.1], [-19,0.9,-16,1.0,-13,0.8], [-18,-0.6,-15,-0.4,-12,-0.5],
  [-16,0.4,-13,0.5,-10,0.3], [-14,1.3,-11,1.1,-8,1.2], [-13,-0.2,-10,-0.1,-7,-0.3],
  [-11,0.7,-8,0.6,-5,0.5], [-10,-0.8,-7,-0.6,-4,-0.7], [-9,1.0,-6,1.1,-3,1.1], [-8,0.2,-5,0.1,-2,0.0],
  [-6,-0.4,-3,-0.3,-1,-0.5], [-4,0.5,-2,0.4,0,0.5], [-3,0.1,-1,0.0,1,0.1], [-2,-1.0,0,-1.2,2,-1.1],
  [-1,0.3,1,0.4,3,0.5], [0,-0.3,2,-0.2,4,-0.4], [1,0.0,3,-0.1,5,0.3], [2,-0.8,4,-0.7,6,-0.5],
  [3,0.6,4.5,0.8], [4,-1.0,5.5,-0.8], [5,0.0,6.5,0.1], [-5,-1.5,-3,-1.7], [-24,-0.1,-22,-0.4],
  [-17,-1.0,-15,-0.7],
  [-28,0.3,-26,0.4], [-26,0.6,-24,0.5], [-22,0.3,-20,0.2], [-20,0.8,-18,0.7], [-17,0.5,-15,0.6],
  [-15,0.9,-13,0.8], [-12,0.2,-10,0.3], [-8,0.8,-6,0.7], [-7,0.3,-5,0.2], [-5,-0.2,-3,-0.1],
  [-3,0.6,-1,0.5], [-1,-0.4,1,-0.5], [1,0.5,3,0.4], [2,0.2,4,0.1], [3,-0.5,5,-0.4],
  [-27,0.2,-25,0.8,-23,0.4], [-24,0.7,-22,1.0], [-21,0.6,-19,0.1,-17,0.5], [-18,1.0,-16,0.6],
  [-14,0.0,-12,0.5,-10,0.1], [-11,-0.3,-9,0.2], [-6,0.5,-4,0.9,-2,0.6], [-3,-0.6,-1,-0.2,1,-0.7],
  [0,0.3,2,0.7,4,0.4]
];

const RED = "#e3252b";
const RED_LINE = "rgba(232, 52, 56, 0.72)";
const BLUE = "#3a6ee0";
const BLUE_LINE = "rgba(62, 112, 226, 0.72)";
const FONT = "'Liberation Sans', Arial, sans-serif";

// flatten trajectories into one series, with a null after each so lines break
function toPoints(trajs) {
  const pts = [];
  trajs.forEach(function (t) {
    for (let i = 0; i < t.length; i += 2) {
      pts.push({ x: t[i], y: t[i + 1] });
    }
    pts.push({ x: t[t.length - 2], y: null });
  });
  return pts;
}

// frame, EYO = 0 reference line and the in-plot legend
const overlay = {
  id: "overlay",
  afterDatasetsDraw: function (chart, args, opts) {
    const ctx = chart.ctx;
    const a = chart.chartArea;
    const x0 = chart.scales.x.getPixelForValue(0);
    ctx.save();
    ctx.strokeStyle = "#cfcfcf";
    ctx.lineWidth = 1;
    ctx.strokeRect(a.left + 0.5, a.top + 0.5, a.right - a.left - 1, a.bottom - a.top - 1);
    ctx.strokeStyle = "#9b9b9b";
    ctx.lineWidth = 1.5;
    ctx.beginPath();
    ctx.moveTo(a.left, a.top);
    ctx.lineTo(a.left, a.bottom);
    ctx.lineTo(a.right, a.bottom);
    ctx.stroke();

    ctx.strokeStyle = "#111";
    ctx.lineWidth = 2;
    ctx.setLineDash([7, 3, 2, 3]);
    ctx.beginPath();
    ctx.moveTo(x0, a.top);
    ctx.lineTo(x0, a.bottom);
    ctx.stroke();
    ctx.setLineDash([]);

    const lx = a.left + opts.dx;
    let ly = opts.pos === "top" ? a.top + opts.dy : a.bottom - opts.dy - 19;
    ctx.font = "19px " + FONT;
    ctx.textBaseline = "middle";
    ctx.textAlign = "left";
    chart.data.datasets.forEach(function (ds) {
      ctx.fillStyle = ds.pointBackgroundColor;
      ctx.fillRect(lx, ly - 4, 8, 8);
      ctx.fillStyle = "#1a1a1a";
      ctx.fillText(ds.label, lx + 11, ly + 1);
      ly += 19;
    });
    ctx.restore();
  }
};

const panels = [
  { id: "A", mc: A_mc, nc: A_nc, yGrid: A_yGrid, yLabels: A_yLabels, dec: 0,
    title: "CSF A\u03b242 at baseline (pg/ml)", plot: [90, 28, 614, 382],
    xr: [-31.1, 11.75], yr: [0, 2458], yTitleX: 36, xTitleY: 411,
    legend: { pos: "top", dx: 12.5, dy: 22 }, letter: [13, 8] },
  { id: "B", mc: B_mc, nc: B_nc, yGrid: B_yGrid, yLabels: B_yLabels, dec: 0,
    title: "cortical PIB-PET uptake (SUVR)", plot: [727, 29, 1256, 382],
    xr: [-34.9, 16.5], yr: [0.595, 5.47], yTitleX: 704, xTitleY: 411,
    legend: { pos: "top", dx: 15, dy: 21 }, letter: [676, 8] },
  { id: "C", mc: C_mc, nc: C_nc, yGrid: C_yGrid, yLabels: C_yLabels, dec: 0,
    title: "CSF t-tau at baseline (pg/ml)", plot: [86, 469, 614, 823],
    xr: [-31.4, 11.85], yr: [63, 2056], yTitleX: 36, xTitleY: 852,
    legend: { pos: "top", dx: 12, dy: 22.7 }, letter: [16, 442] },
  { id: "D", mc: D_mc, nc: D_nc, yGrid: D_yGrid, yLabels: D_yLabels, dec: 0,
    title: "CSF p-tau at baseline (pg/ml)", plot: [737, 470, 1256, 823],
    xr: [-31.3, 11.6], yr: [-2.3, 345], yTitleX: 696, xTitleY: 853,
    legend: { pos: "top", dx: 13.6, dy: 21.7 }, letter: [678, 443] },
  { id: "E", mc: E_mc, nc: E_nc, yGrid: E_yGrid, yLabels: E_yLabels, dec: 0,
    title: "Hippocampal volume", plot: [111, 908, 615, 1257],
    xr: [-34.6, 16.3], yr: [2262, 11001], yTitleX: 57, xTitleY: 1285,
    legend: { pos: "bottom", dx: 11.6, dy: 47.7 }, letter: [16, 882] },
  { id: "F", mc: F_mc, nc: F_nc, yGrid: F_yGrid, yLabels: F_yLabels, dec: 1,
    title: "Cortical thickness -Precuneus-", plot: [733, 908, 1252, 1252],
    xr: [-34.8, 15.6], yr: [1.447, 2.929], yTitleX: 696, xTitleY: 1280,
    legend: { pos: "bottom", dx: 15, dy: 47 }, letter: [682, 883] },
  { id: "G", mc: G_mc, nc: G_nc, yGrid: G_yGrid, yLabels: G_yLabels, dec: 1,
    title: "Cognitive composite*", plot: [107, 1329, 615, 1677],
    xr: [-31.4, 11.9], yr: [-10.27, 2.29], yTitleX: 59, xTitleY: 1707,
    legend: { pos: "bottom", dx: 11.6, dy: 46.3 }, letter: [4, 1302] }
];

const page = document.getElementById("page");

panels.forEach(function (p) {
  const l = p.plot[0], t = p.plot[1], r = p.plot[2], b = p.plot[3];
  const cl = Math.round(p.yTitleX - 11.4);
  const ct = t - 14;
  const cr = r + 6;
  const cb = Math.round(p.xTitleY + 10.8);

  const box = document.createElement("div");
  box.className = "panel";
  box.style.left = cl + "px";
  box.style.top = ct + "px";
  const canvas = document.createElement("canvas");
  canvas.width = cr - cl;
  canvas.height = cb - ct;
  canvas.style.width = (cr - cl) + "px";
  canvas.style.height = (cb - ct) + "px";
  box.appendChild(canvas);
  page.appendChild(box);

  const letter = document.createElement("div");
  letter.className = "letter";
  letter.style.left = p.letter[0] + "px";
  letter.style.top = p.letter[1] + "px";
  letter.textContent = p.id;
  page.appendChild(letter);

  new Chart(canvas, {
    type: "scatter",
    data: {
      datasets: [
        {
          label: "Mutation-carrier",
          data: toPoints(p.mc),
          showLine: true,
          spanGaps: false,
          borderColor: RED_LINE,
          borderWidth: 1,
          pointBackgroundColor: RED,
          pointBorderColor: RED,
          pointBorderWidth: 0.5,
          pointRadius: 2.4,
          pointStyle: "circle"
        },
        {
          label: "Non-carrier",
          data: toPoints(p.nc),
          showLine: true,
          spanGaps: false,
          borderColor: BLUE_LINE,
          borderWidth: 1,
          pointBackgroundColor: BLUE,
          pointBorderColor: BLUE,
          pointBorderWidth: 0.5,
          pointRadius: 2.8,
          pointStyle: "triangle"
        }
      ]
    },
    options: {
      responsive: false,
      animation: false,
      events: [],
      layout: { padding: { top: 14, right: 6, left: 0, bottom: 0 } },
      plugins: {
        legend: { display: false },
        tooltip: { enabled: false },
        overlay: p.legend
      },
      scales: {
        x: {
          type: "linear",
          min: p.xr[0],
          max: p.xr[1],
          afterBuildTicks: function (s) {
            s.ticks = xGridTicks.filter(function (v) { return v > p.xr[0] && v < p.xr[1]; })
              .map(function (v) { return { value: v }; });
          },
          afterFit: function (s) { s.height = cb - b; },
          ticks: {
            autoSkip: false,
            maxRotation: 0,
            padding: 2,
            color: "#555",
            font: { family: FONT, size: 12 },
            callback: function (v) { return xLabelTicks.indexOf(v) >= 0 ? String(v) : ""; }
          },
          grid: { color: "#dedede", lineWidth: 1, tickLength: 3, tickColor: "#999" },
          border: { display: false, dash: [2, 2] },
          title: {
            display: true,
            text: "EYO",
            color: "#111",
            padding: 0,
            font: { family: FONT, size: 18, lineHeight: 1.2 }
          }
        },
        y: {
          type: "linear",
          min: p.yr[0],
          max: p.yr[1],
          afterBuildTicks: function (s) {
            s.ticks = p.yGrid.map(function (v) { return { value: v }; });
          },
          afterFit: function (s) { s.width = l - cl; },
          ticks: {
            autoSkip: false,
            padding: 2,
            color: "#555",
            font: { family: FONT, size: 12 },
            callback: function (v) { return p.yLabels.indexOf(v) >= 0 ? v.toFixed(p.dec) : ""; }
          },
          grid: { color: "#dedede", lineWidth: 1, tickLength: 3, tickColor: "#999" },
          border: { display: false, dash: [2, 2] },
          title: {
            display: true,
            text: p.title,
            color: "#111",
            padding: 0,
            font: { family: FONT, size: 19, lineHeight: 1.2 }
          }
        }
      }
    },
    plugins: [overlay]
  });
});
</script>
</body>
</html>
